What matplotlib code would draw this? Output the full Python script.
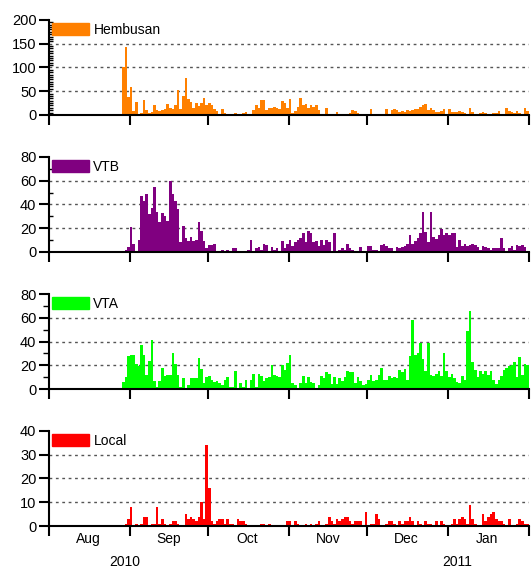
import matplotlib
matplotlib.use("Agg")
import matplotlib.pyplot as plt
import matplotlib.dates as mdates
from matplotlib.patches import Patch
from matplotlib.ticker import MultipleLocator
import pandas as pd

plt.rcParams["font.family"] = ["Liberation Sans", "DejaVu Sans"]

# daily event counts, 29 Aug 2010 .. 31 Jan 2011
start_date = "2010-08-29"

hembusan = [
    100, 143, 38, 59, 8, 27, 3, 5, 32, 10,
    4, 7, 20, 10, 9, 11, 12, 24, 15, 13,
    21, 52, 13, 40, 77, 34, 27, 14, 26, 18,
    25, 35, 20, 25, 22, 12, 8, 3, 12, 5,
    3, 2, 1, 4, 2, 1, 5, 6, 3, 2,
    10, 20, 14, 31, 31, 10,
    15, 14, 17, 14, 12, 30, 25, 14, 34, 5,
    8, 16, 36, 21, 24, 14, 22, 16, 22, 10,
    2, 2, 15, 2, 1, 3, 7, 3, 1, 0,
    2, 5, 10, 9, 4, 2, 0, 3, 2, 13, 3,
    1, 2, 2, 1, 12, 3, 11, 12, 11, 7,
    9, 6, 11, 9, 10, 12, 12, 17, 20, 23,
    11, 14, 11, 6, 7, 8, 12, 1, 12, 7,
    6, 7, 8, 6, 5, 3, 14, 7, 3, 3,
    5, 6, 4, 1, 1, 4, 4, 9, 3, 2,
    14, 9, 7, 5, 9, 4, 3, 15, 8,
]

vtb = [
    1, 2, 4, 21, 7, 0, 10, 47, 43, 49,
    32, 37, 55, 34, 25, 33, 30, 26, 60, 49,
    43, 36, 8, 22, 12, 9, 13, 9, 10, 25,
    18, 9, 3, 6, 6, 7, 0, 0, 2, 1,
    2, 0, 3, 3, 1, 0, 0, 1, 2, 10,
    1, 3, 4, 2, 7,
    6, 0, 4, 2, 3, 0, 9, 3, 7, 10,
    5, 8, 10, 12, 16, 8, 18, 16, 8, 9,
    5, 10, 6, 10, 8, 0, 16, 0, 2, 3,
    2, 7, 3, 2, 1, 0, 4, 0, 1, 5,
    5, 2, 2, 1, 6, 7, 5, 3, 3, 0,
    4, 3, 4, 5, 7, 14, 7, 9, 12, 16,
    34, 17, 8, 34, 13, 11, 14, 19, 14, 16,
    14, 16, 16, 4, 10, 5, 7, 5, 6, 7,
    6, 4, 2, 5, 4, 3, 2, 3, 3, 3,
    12, 3, 1, 3, 5, 2, 6, 5, 6, 4,
    1,
]

vta = [
    6, 10, 28, 29, 29, 21, 19, 37, 29, 12,
    24, 41, 7, 2, 7, 18, 11, 12, 12, 30,
    21, 12, 2, 9, 1, 3, 9, 9, 9, 26,
    17, 5, 10, 11, 8, 6, 7, 5, 3, 8,
    10, 2, 2, 15, 0, 5, 2, 8, 1, 8,
    13, 2, 13, 11, 7, 9,
    10, 20, 12, 11, 10, 20, 16, 22, 29, 5,
    3, 1, 5, 11, 5, 10, 6, 5, 1, 3,
    11, 9, 14, 13, 4, 10, 4, 9, 7, 10,
    15, 14, 14, 5, 10, 7, 3, 4, 8, 12,
    7, 8, 12, 18, 8, 8, 11, 9, 10, 9,
    16, 14, 17, 8, 28, 58, 29, 30, 39, 25,
    15, 39, 12, 11, 13, 15, 11, 30, 15, 10,
    13, 9, 6, 5, 11, 8, 49, 66, 23, 16, 10,
    15, 13, 15, 12, 15, 8, 4, 8, 11, 16,
    18, 19, 20, 23, 10, 27, 12, 21, 20,
]

local = [
    0, 1, 3, 8, 0, 1, 0, 1, 4, 4,
    0, 1, 1, 8, 1, 3, 1, 0, 1, 2,
    2, 1, 0, 0, 5, 3, 4, 3, 2, 4,
    10, 3, 34, 16, 2, 1, 2, 3, 3, 1,
    3, 1, 1, 0, 3, 2, 2, 1, 0, 0,
    0, 0, 0, 1, 1, 0,
    1, 0, 0, 0, 0, 0, 0, 2, 2, 0,
    2, 1, 0, 0, 1, 0, 1, 0, 1, 2,
    0, 0, 1, 4, 2, 1, 3, 2, 3, 4,
    4, 2, 1, 2, 2, 2, 0, 6, 0, 1,
    1, 5, 3, 0, 0, 1, 2, 2, 1, 0,
    2, 1, 2, 2, 4, 2, 0, 2, 1, 0,
    2, 1, 1, 0, 2, 0, 2, 1, 0, 0,
    1, 3, 1, 3, 4, 3, 1, 9, 3, 1, 0,
    0, 5, 2, 4, 5, 6, 3, 2, 2, 1,
    0, 3, 0, 0, 1, 3, 2, 1, 1,
]

names = ["Hembusan", "VTB", "VTA", "Local"]
colors = ["#ff8000", "#800080", "#00ff00", "#ff0000"]
y_max = [200, 80, 80, 40]
y_step = [50, 20, 20, 10]
minor_step = [5, 10, 10, None]
minor_dir = ["in", "in", "out", None]
month_labels = ["Aug", "Sep", "Oct", "Nov", "Dec", "Jan"]
year_labels = ["2010", "2011"]

fig = plt.figure(figsize=(5.32, 5.71), dpi=100)

bottoms = [0.7986, 0.5587, 0.3187, 0.0788]
x_min = pd.Timestamp("2010-08-01")
x_max = pd.Timestamp("2011-02-01")
month_starts = pd.date_range(x_min, x_max, freq="MS")
month_mids = month_starts[:-1] + pd.Timedelta(days=15)

for i, series in enumerate([hembusan, vtb, vta, local]):
    ax = fig.add_axes([0.092, bottoms[i], 0.902, 0.1664])
    days = pd.date_range(start_date, periods=len(series), freq="D")
    ax.bar(days, series, width=1.0, align="edge", color=colors[i], linewidth=0)

    ax.set_xlim(x_min, x_max)
    ax.set_ylim(0, y_max[i])
    ax.set_yticks(range(0, y_max[i] + 1, y_step[i]))
    for v in range(y_step[i], y_max[i], y_step[i]):
        ax.axhline(v, color="#555555", lw=1.0, ls=(0, (2, 2.6)), zorder=0)

    if minor_step[i]:
        ax.yaxis.set_minor_locator(MultipleLocator(minor_step[i]))
        ax.tick_params(axis="y", which="minor", direction=minor_dir[i],
                       length=3 if minor_dir[i] == "in" else 4, width=1)

    ax.tick_params(axis="y", which="major", length=7, width=1.5, pad=2,
                   labelsize=10.5)
    ax.set_xticks(month_starts)
    ax.set_xticklabels([])
    ax.tick_params(axis="x", which="major", length=7, width=1.5)

    if i == 3:
        ax.set_xticks(month_mids, minor=True)
        ax.set_xticklabels(month_labels, minor=True)
        ax.tick_params(axis="x", which="minor", length=0, pad=4, labelsize=10)
        ax.text(0.158, -0.38, year_labels[0], transform=ax.transAxes,
                ha="center", va="center", fontsize=10)
        ax.text(0.85, -0.38, year_labels[1], transform=ax.transAxes,
                ha="center", va="center", fontsize=10)

    for side in ["top", "right"]:
        ax.spines[side].set_visible(False)
    for side in ["left", "bottom"]:
        ax.spines[side].set_linewidth(1.5)

    ax.legend(handles=[Patch(color=colors[i], label=names[i])],
              loc="upper left", bbox_to_anchor=(0.0, 1.0), frameon=False,
              fontsize=10, handlelength=2.7, handleheight=0.9,
              handletextpad=0.3, borderpad=0.2, borderaxespad=0.0)

fig.savefig("out.png", dpi=100)
